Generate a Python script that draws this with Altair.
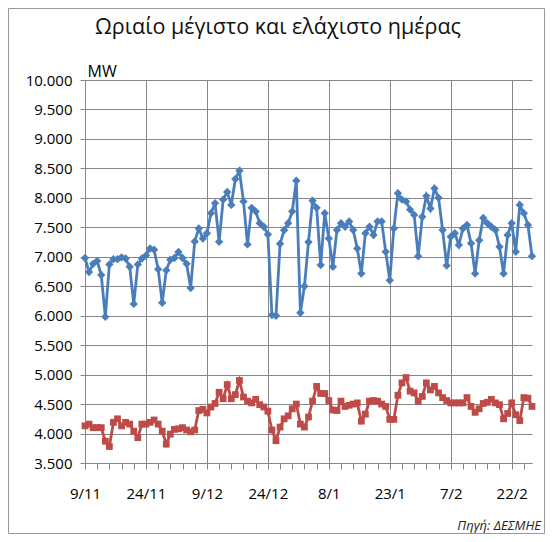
import altair as alt
import pandas as pd

# ---- data ----
start_date = "2010-11-09"
n_days = 111

max_mw = [
    6980, 6740, 6880, 6930, 6690, 5980, 6870, 6960, 6960, 6990,
    6970, 6830, 6200, 6870, 6970, 7020, 7140, 7120, 6790, 6220,
    6770, 6950, 6980, 7080, 6980, 6880, 6470, 7260, 7480, 7310,
    7400, 7740, 7910, 7255, 7970, 8100, 7880, 8320, 8460, 7940,
    7210, 7830, 7770, 7570, 7510, 7380, 6010, 6000, 7220, 7450,
    7570, 7770, 8290, 6050, 6500, 7250, 7950, 7830, 6860, 7740,
    7310, 6830, 7455, 7570, 7510, 7600, 7455, 7140, 6715, 7400,
    7510, 7370, 7600, 7600, 7085, 6600, 7480, 8080, 7970, 7940,
    7800, 7710, 7010, 7680, 8030, 7820, 8160, 8000, 7455, 6850,
    7340, 7400, 7200, 7480, 7540, 7230, 6715, 7280, 7660, 7570,
    7510, 7455, 7170, 6715, 7370, 7570, 7085, 7880, 7740, 7540,
    7010,
]

min_mw = [
    4130, 4160, 4100, 4100, 4100, 3870, 3780, 4190, 4250, 4130,
    4190, 4160, 4040, 3930, 4160, 4160, 4190, 4230, 4160, 4040,
    3820, 3990, 4070, 4080, 4100, 4060, 4030, 4060, 4390, 4410,
    4350, 4450, 4510, 4700, 4590, 4830, 4590, 4660, 4900, 4620,
    4550, 4520, 4580, 4490, 4450, 4380, 4060, 3880, 4110, 4250,
    4300, 4420, 4500, 4160, 4110, 4280, 4550, 4800, 4680, 4680,
    4560, 4400, 4390, 4550, 4460, 4480, 4500, 4520, 4210, 4330,
    4550, 4560, 4550, 4500, 4460, 4240, 4240, 4650, 4860, 4950,
    4720, 4690, 4550, 4630, 4860, 4740, 4800, 4690, 4610, 4560,
    4520, 4520, 4520, 4520, 4610, 4460, 4360, 4420, 4510, 4530,
    4580, 4520, 4490, 4250, 4340, 4520, 4320, 4220, 4610, 4600,
    4460,
]

y_ticks = list(range(3500, 10001, 500))
title_text = "Ωριαίο μέγιστο και ελάχιστο ημέρας"
source_text = "Πηγή: ΔΕΣΜΗΕ"
y_title = "MW"

dates = pd.date_range(start_date, periods=n_days, freq="D")
date_str = dates.strftime("%Y-%m-%dT00:00:00").tolist()
df = pd.DataFrame({"date": date_str, "max": max_mw, "min": min_mw})

tick_dates = pd.date_range(start_date, periods=37, freq="3D")
x_tick_values = [alt.DateTime(year=d.year, month=d.month, date=d.day) for d in tick_dates]

W, H = 447, 383
FONT = "Open Sans"
GRID = "#868686"

major = "round((datum.value - datetime(2010, 10, 9)) / 86400000) % 15 === 0"

x_enc = alt.X(
    "date:T",
    scale=alt.Scale(domain=[alt.DateTime(year=2010, month=11, date=9),
                            alt.DateTime(year=2011, month=2, date=27)]),
    axis=alt.Axis(
        title=None,
        values=x_tick_values,
        labelExpr="(" + major + ") ? timeFormat(datum.value, '%-d/%-m') : ''",
        grid=True,
        gridOpacity={"condition": {"test": major, "value": 1}, "value": 0},
        tickSize=6,
        labelPadding=17,
        labelFontSize=15,
        labelFlush=False,
    ),
)

y_scale = alt.Scale(domain=[3500, 10000], nice=False, zero=False)
y_axis = alt.Axis(
    values=y_ticks,
    labelExpr="replace(format(datum.value, ','), ',', '.')",
    title=y_title,
    titleAngle=0,
    titleAlign="left",
    titleBaseline="alphabetic",
    titleX=2,
    titleY=-4,
    titleFontSize=16,
    titleFontWeight="normal",
    tickSize=5,
    labelPadding=8,
    labelFontSize=15,
)

base = alt.Chart(df).encode(x=x_enc)

blue = base.mark_line(
    color="#4A7EBB", strokeWidth=2.8,
    point=alt.OverlayMarkDef(shape="diamond", size=70, filled=True, color="#4A7EBB", opacity=1),
).encode(y=alt.Y("max:Q", scale=y_scale, axis=y_axis))

red = base.mark_line(
    color="#BE4B48", strokeWidth=2.8,
    point=alt.OverlayMarkDef(shape="square", size=46, filled=True, color="#BE4B48", opacity=1),
).encode(y=alt.Y("min:Q", scale=y_scale, axis=y_axis))

src_df = pd.DataFrame({"t": [source_text]})
source = alt.Chart(src_df).mark_text(
    align="right", baseline="middle", font=FONT, fontSize=13, fontStyle="italic", color="#222"
).encode(x=alt.value(456), y=alt.value(446), text="t:N")

ttl_df = pd.DataFrame({"t": [title_text]})
title = alt.Chart(ttl_df).mark_text(
    align="center", baseline="middle", font=FONT, fontSize=21.5, color="#111"
).encode(x=alt.value(193), y=alt.value(-52), text="t:N")

frame = alt.Chart(pd.DataFrame({"f": [0]})).mark_rect(
    fill=None, stroke="#9a9a9a", strokeWidth=1
).encode(x=alt.value(-76.5), x2=alt.value(W + 12.5), y=alt.value(-71.5), y2=alt.value(H + 70.5))

chart = alt.layer(frame, blue, red, source, title).properties(
    width=W,
    height=H,
    autosize=alt.AutoSizeParams(type="none"),
    padding={"left": 77, "top": 72, "right": 13, "bottom": 71},
).configure_view(stroke=None).configure_axis(
    labelFont=FONT, titleFont=FONT, labelColor="#000", titleColor="#000",
    domainColor=GRID, tickColor=GRID, gridColor=GRID, gridWidth=1, domainWidth=1,
)

chart.save("out.html", embed_options={"renderer": "svg", "actions": False})
